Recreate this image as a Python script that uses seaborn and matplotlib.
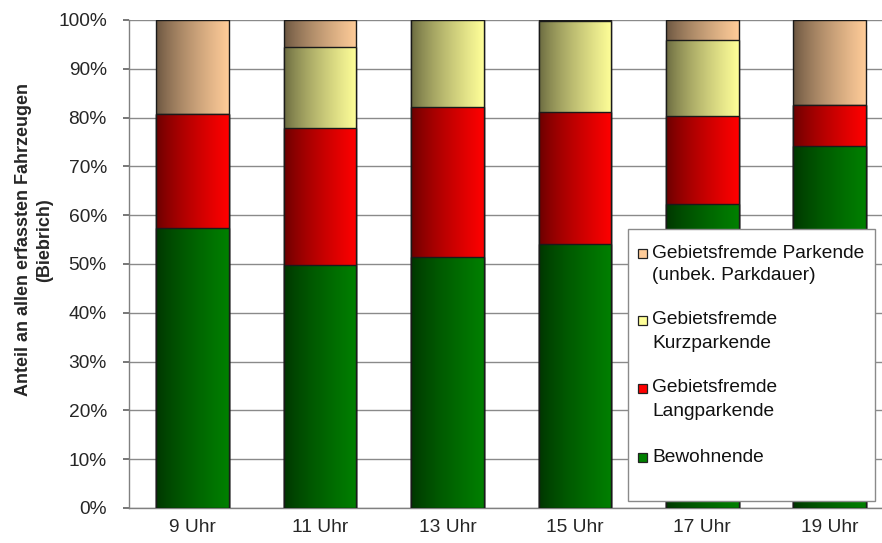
import numpy as np
import matplotlib
matplotlib.use("Agg")
import matplotlib.pyplot as plt
import matplotlib.colors as mcolors
from matplotlib.patches import Rectangle
import seaborn as sns

# values (percent of all counted vehicles, Biebrich)
zeiten = ["9 Uhr", "11 Uhr", "13 Uhr", "15 Uhr", "17 Uhr", "19 Uhr"]
bewohnende = [57.4, 49.8, 51.4, 54.1, 62.3, 74.2]
langparkende = [23.3, 28.1, 30.8, 27.0, 18.1, 8.4]
kurzparkende = [0.0, 16.6, 17.8, 18.6, 15.5, 0.0]
fremd_unbekannt = [19.3, 5.5, 0.0, 0.3, 4.1, 17.4]

labels = ["Bewohnende", "Gebietsfremde\nLangparkende", "Gebietsfremde\nKurzparkende",
          "Gebietsfremde Parkende\n(unbek. Parkdauer)"]
farben = ["#008000", "#ff0000", "#ffff99", "#ffcc99"]

sns.set_theme(style="white")
plt.rcParams["font.family"] = ["Liberation Sans", "DejaVu Sans"]

W, H = 882, 543
fig = plt.figure(figsize=(W / 100, H / 100), dpi=100)
ax = fig.add_axes([129 / W, 35 / H, 753 / W, 488 / H])

# cumulative layers, drawn from the top one down
serien = [bewohnende, langparkende, kurzparkende, fremd_unbekannt]
kum = np.cumsum(np.array(serien), axis=0)

for k in range(3, -1, -1):
    z = 2 + (3 - k)
    n0 = len(ax.patches)
    sns.barplot(x=zeiten, y=kum[k], color=farben[k], width=0.57, ax=ax,
                edgecolor="#1a1a1a", linewidth=1.0)
    base = np.array(mcolors.to_rgb(farben[k]))
    t = np.linspace(0, 1, 256)[:, None]
    grad = (base * (0.40 + 0.60 * t ** 0.75))[None, :, :]
    for p in ax.patches[n0:]:
        p.set_facecolor("none")
        p.set_zorder(z + 0.5)
        x0, y0 = p.get_x(), p.get_y()
        img = ax.imshow(grad, extent=(x0, x0 + p.get_width(), y0, y0 + p.get_height()),
                        aspect="auto", zorder=z, interpolation="bilinear")
        img.set_clip_path(p)

fs = 13.8
ax.set_xlim(-0.5, 5.41)
ax.set_ylim(0, 100)
ax.set_yticks(np.arange(0, 101, 10))
ax.set_yticklabels([f"{v}%" for v in range(0, 101, 10)], fontsize=fs)
ax.yaxis.grid(True, color="#8a8a8a", linewidth=1.0)
ax.set_axisbelow(True)
ax.set_xticks(range(len(zeiten)))
ax.set_xticklabels(zeiten, fontsize=fs)
ax.set_xticks(np.arange(-0.5, 5.5, 1.0), minor=True)
ax.tick_params(axis="x", which="major", length=0, pad=8)
ax.tick_params(axis="x", which="minor", length=5, color="#666666", direction="out")
ax.tick_params(axis="y", length=4, color="#666666", direction="out", left=True, pad=12)
ax.set_xlabel("")
ax.set_ylabel("")
for s in ["top", "right"]:
    ax.spines[s].set_visible(False)
for s in ["left", "bottom"]:
    ax.spines[s].set_color("#808080")
    ax.spines[s].set_linewidth(1.0)

fig.text(34 / W, 1 - 240 / H, "Anteil an allen erfassten Fahrzeugen\n(Biebrich)",
         rotation=90, ha="center", va="center", multialignment="center",
         fontsize=13, fontweight="bold", linespacing=1.3)

# legend drawn by hand so the spacing follows the original
leg_box = Rectangle((628 / W, 1 - 501 / H), (875 - 628) / W, (501 - 229) / H,
                    transform=fig.transFigure, facecolor="white", edgecolor="#8a8a8a",
                    linewidth=1.0, zorder=10)
fig.patches.append(leg_box)
zeilen_y = [457, 388, 320, 253]
for k in range(4):
    y = zeilen_y[k]
    fig.patches.append(Rectangle((638 / W, 1 - (y + 5) / H), 9 / W, 9 / H,
                                 transform=fig.transFigure, facecolor=farben[k],
                                 edgecolor="#222222", linewidth=0.9, zorder=11))
    for j, zeile in enumerate(labels[k].split("\n")):
        fig.text(652 / W, 1 - (y + 23 * j) / H, zeile, ha="left", va="center",
                 fontsize=fs, color="#111111", zorder=12)

fig.savefig("out.png", dpi=100)
